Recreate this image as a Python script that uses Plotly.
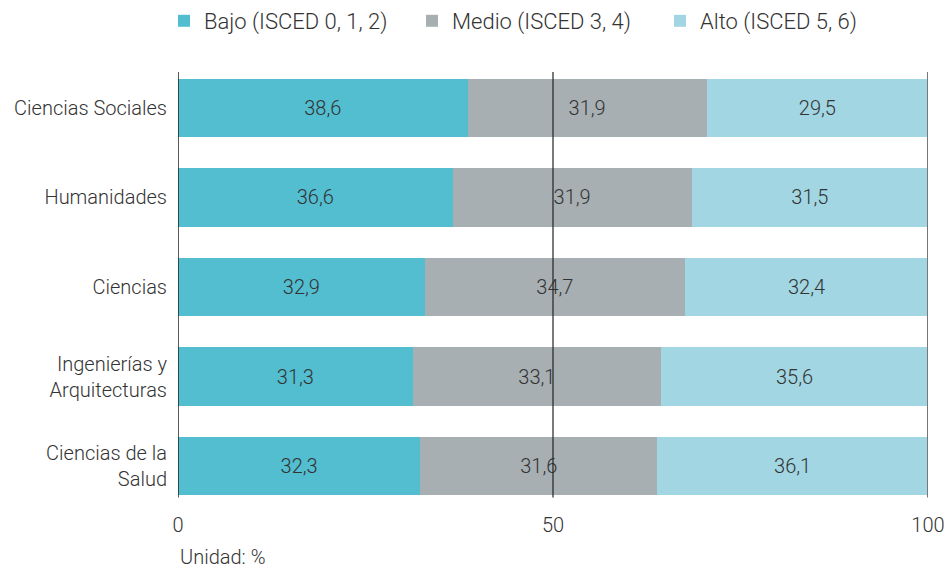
import plotly.graph_objects as go

categories = ["Ciencias Sociales", "Humanidades", "Ciencias",
              "Ingenierías y<br>Arquitecturas", "Ciencias de la<br>Salud"]
bajo = [38.6, 36.6, 32.9, 31.3, 32.3]
medio = [31.9, 31.9, 34.7, 33.1, 31.6]
alto = [29.5, 31.5, 32.4, 35.6, 36.1]
series_names = ["Bajo (ISCED 0, 1, 2)", "Medio (ISCED 3, 4)", "Alto (ISCED 5, 6)"]
colors = ["#52BED0", "#A7AFB2", "#A1D6E2"]
x_ticks = [0, 50, 100]

FONT = "Roboto"
TXT = "#333333"
W = 300

fig = go.Figure()
for name, vals, col in zip(series_names, [bajo, medio, alto], colors):
    fig.add_trace(go.Bar(
        y=categories, x=vals, name=name, orientation="h",
        marker=dict(color=col, line=dict(width=0)),
        texttemplate="%{x:.1f}", textposition="inside",
        insidetextanchor="middle",
        textfont=dict(family=FONT, size=20, color=TXT, weight=W),
        hoverinfo="skip",
    ))

fig.update_layout(
    barmode="stack", bargap=0.35,
    width=945, height=570,
    margin=dict(l=178, r=17, t=63, b=59),
    paper_bgcolor="white", plot_bgcolor="white",
    separators=",.",
    font=dict(family=FONT, size=20, color=TXT, weight=W),
    showlegend=True,
    legend=dict(orientation="h", x=164 / 945, xanchor="left", xref="container",
                y=1.0, yanchor="top", yref="container", traceorder="normal",
                entrywidth=203, entrywidthmode="pixels",
                font=dict(family=FONT, size=22, color=TXT, weight=W)),
    xaxis=dict(range=[0, 100], tickvals=x_ticks, ticktext=[str(t) for t in x_ticks],
               showgrid=False, zeroline=False, showline=False, automargin=False,
               ticks="", tickfont=dict(family=FONT, size=20, color=TXT, weight=W),
               ticklabelstandoff=0),
    yaxis=dict(autorange="reversed", showgrid=False, zeroline=False, showline=False,
               automargin=False, ticks="", ticklabelstandoff=10,
               tickfont=dict(family=FONT, size=20, color=TXT, weight=W)),
    annotations=[dict(text="Unidad: %", xref="paper", yref="paper", x=0, y=-0.103,
                      xanchor="left", yanchor="middle", showarrow=False,
                      font=dict(family=FONT, size=20, color=TXT, weight=W))],
)

# axis lines: left (0), mid reference (50), right (100)
for xv, col, w in [(0, "#222222", 1.5), (50, "#222222", 1.2), (100, "#777777", 2)]:
    fig.add_shape(type="line", xref="x", yref="y", x0=xv, x1=xv, y0=-0.4, y1=4.35,
                  line=dict(color=col, width=w), layer="above")

fig.write_html("out.html", config={"displayModeBar": False},
               post_script="document.body.style.margin='0';document.body.style.overflow='hidden';")
